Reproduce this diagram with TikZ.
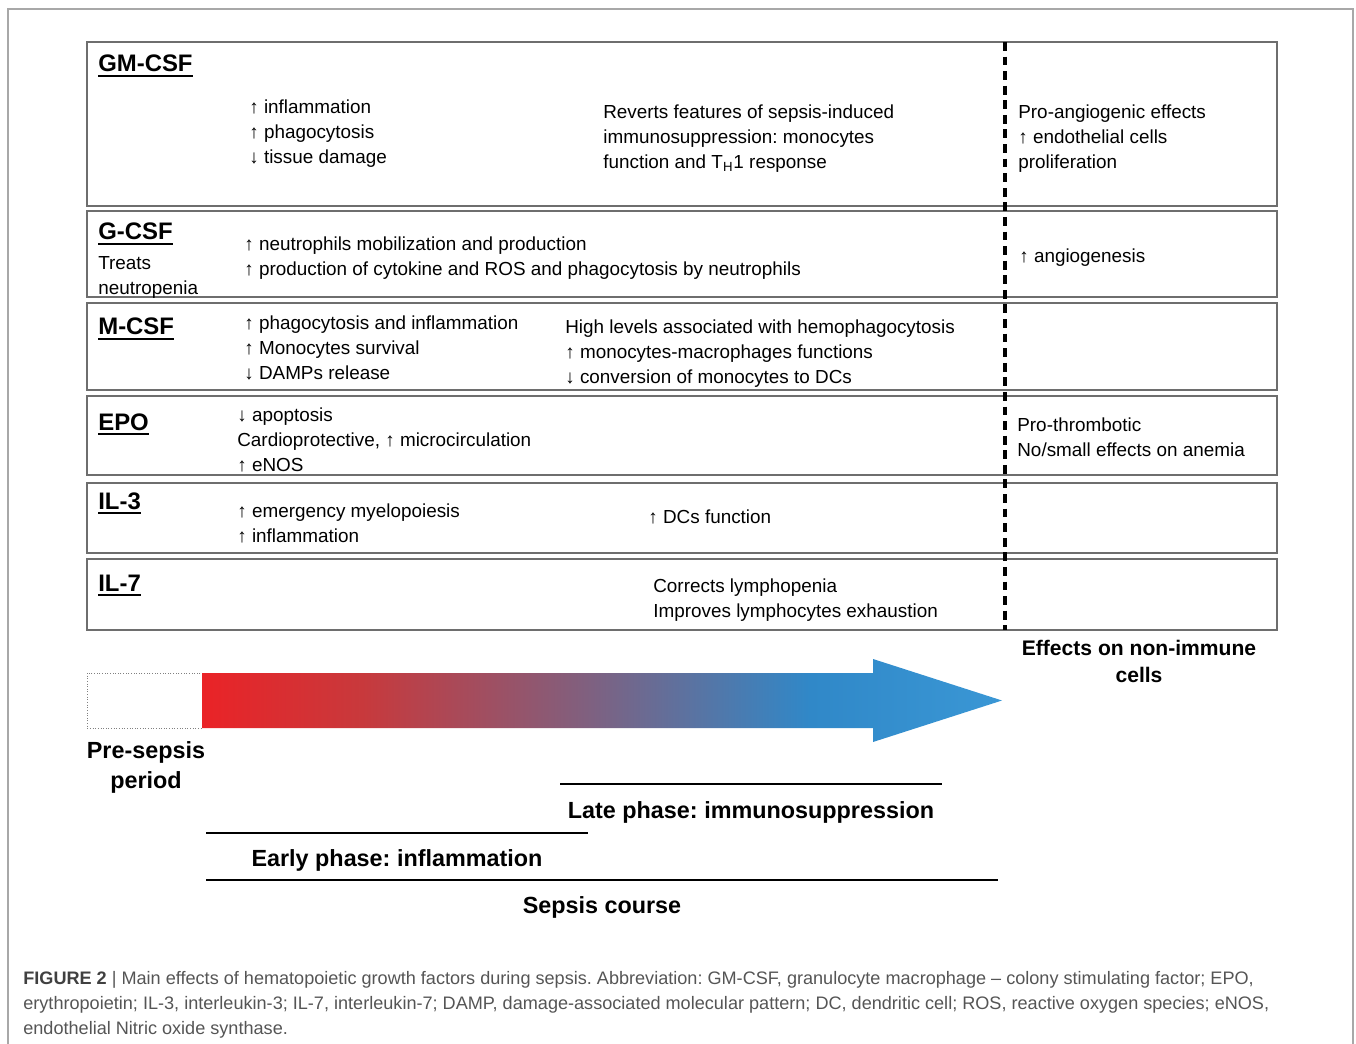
\documentclass[tikz,border=0pt]{standalone}
\usepackage{fontspec}
\setmainfont{Liberation Sans}
\definecolor{boxgray}{HTML}{6E6E6E}
\definecolor{framegray}{HTML}{A8A8A8}
\definecolor{capgray}{HTML}{555555}
\definecolor{sepred}{HTML}{EA2327}
\definecolor{sepred2}{HTML}{C8393C}
\definecolor{seppurple}{HTML}{80607F}
\definecolor{sepblue}{HTML}{3088C8}
\definecolor{seplight}{HTML}{3A97D5}
\pgfdeclarehorizontalshading{sepsis}{100bp}{color(0bp)=(sepred); color(25bp)=(sepred);
  color(35bp)=(sepred2); color(49bp)=(seppurple); color(63bp)=(sepblue);
  color(75bp)=(seplight); color(100bp)=(seplight)}
\newcommand{\hdline}[1]{\setbox0=\hbox{#1}\rlap{\rule[-3pt]{\wd0}{1.1pt}}\box0}
\frenchspacing
\begin{document}
\begin{tikzpicture}[x=0.02cm,y=-0.02cm,
    row/.style={draw=boxgray,line width=0.9pt},
    hdr/.style={anchor=base west,inner sep=0pt,font=\fontsize{13.6}{16}\selectfont\bfseries},
    txt/.style={anchor=west,inner sep=0pt,align=left,font=\fontsize{10.75}{14.2}\selectfont},
    phase/.style={inner sep=0pt,align=center,font=\fontsize{13.3}{17}\selectfont\bfseries},
    bar/.style={line width=1.7pt}]
  \useasboundingbox (0,0) rectangle (1356,1044);
  % outer frame
  \draw[framegray,line width=0.6pt] (8,1044) -- (8,9) -- (1353,9) -- (1353,1044);

  % rows
  \foreach \t/\b in {42/206,211/297,303/390,396/475,483/553,559/630}
    \draw[row] (87,\t) rectangle (1277,\b);
  \coordinate (divtop) at (1005,42);
  \coordinate (divbot) at (1005,630);
  \draw[line width=2pt,dash pattern=on 5pt off 3.3pt] (divtop) -- (divbot);

  % GM-CSF
  \node[hdr] (gm) at (98,72) {\hdline{GM-CSF}};
  \node[txt] (gm1) at (249,134) {↑ inflammation\\↑ phagocytosis\\↓ tissue damage};
  \node[txt] (gm2) at (603,139) {Reverts features of sepsis-induced\\immunosuppression: monocytes\\function and T\textsubscript{H}1 response};
  \node[txt] (gm3) at (1018,139) {Pro-angiogenic effects\\↑ endothelial cells\\proliferation};

  % G-CSF
  \node[hdr] (g) at (98,240) {\hdline{G-CSF}};
  \node[txt] (gnote) at (98,277) {Treats\\neutropenia};
  \node[txt] (g1) at (244,258) {↑ neutrophils mobilization and production\\↑ production of cytokine and ROS and phagocytosis by neutrophils};
  \node[txt] (g3) at (1019,258) {↑ angiogenesis};

  % M-CSF
  \node[hdr] (m) at (98,335) {\hdline{M-CSF}};
  \node[txt] (m1) at (244,347.5) {↑ phagocytosis and inflammation\\↑ Monocytes survival\\↓ DAMPs release};
  \node[txt] (m2) at (565,353.5) {High levels associated with hemophagocytosis\\↑ monocytes-macrophages functions\\↓ conversion of monocytes to DCs};

  % EPO
  \node[hdr] (epo) at (98,430) {\hdline{EPO}};
  \node[txt] (epo1) at (237,439.5) {↓ apoptosis\\Cardioprotective, ↑ microcirculation\\↑ eNOS};
  \node[txt] (epo3) at (1017,437) {Pro-thrombotic\\No/small effects on anemia};

  % IL-3
  \node[hdr] (il3) at (98,509) {\hdline{IL-3}};
  \node[txt] (il31) at (237,523) {↑ emergency myelopoiesis\\↑ inflammation};
  \node[txt] (il32) at (648,516.5) {↑ DCs function};

  % IL-7
  \node[hdr] (il7) at (98,591) {\hdline{IL-7}};
  \node[txt] (il72) at (653,600) {Corrects lymphopenia\\Improves lymphocytes exhaustion};

  \node[phase,font=\fontsize{12}{15.3}\selectfont\bfseries] (noni) at (1139,661.5) {Effects on non-immune\\cells};

  % sepsis arrow
  \draw[gray,densely dotted,line width=0.5pt] (87,673) rectangle (202,728);
  \shade[shading=sepsis]
    (202,673) -- (873,673) -- (873,659) -- (1002,700.5) -- (873,742) -- (873,728) -- (202,728) -- cycle;
  \node[phase,font=\fontsize{13.3}{17}\selectfont\bfseries] (pre) at (146,767.5) {Pre-sepsis\\period};

  % phases
  \coordinate (late0) at (560,784);  \coordinate (late1) at (942,784);
  \coordinate (early0) at (206,833); \coordinate (early1) at (588,833);
  \coordinate (course0) at (206,880); \coordinate (course1) at (998,880);
  \draw[bar] (late0) -- (late1);
  \draw[bar] (early0) -- (early1);
  \draw[bar] (course0) -- (course1);
  \node[phase] (late) at (751,812) {Late phase: immunosuppression};
  \node[phase] (early) at (397,860) {Early phase: inflammation};
  \node[phase] (course) at (602,907) {Sepsis course};

  % caption
  \node[anchor=west,inner sep=0pt,align=left,text=capgray,font=\fontsize{10.3}{14.2}\selectfont] (cap) at (23,1005)
    {{\bfseries\color{black!75}FIGURE 2} | Main effects of hematopoietic growth factors during sepsis. Abbreviation: GM-CSF, granulocyte macrophage – colony stimulating factor; EPO,\\
     erythropoietin; IL-3, interleukin-3; IL-7, interleukin-7; DAMP, damage-associated molecular pattern; DC, dendritic cell; ROS, reactive oxygen species; eNOS,\\
     endothelial Nitric oxide synthase.};
\end{tikzpicture}
\end{document}
